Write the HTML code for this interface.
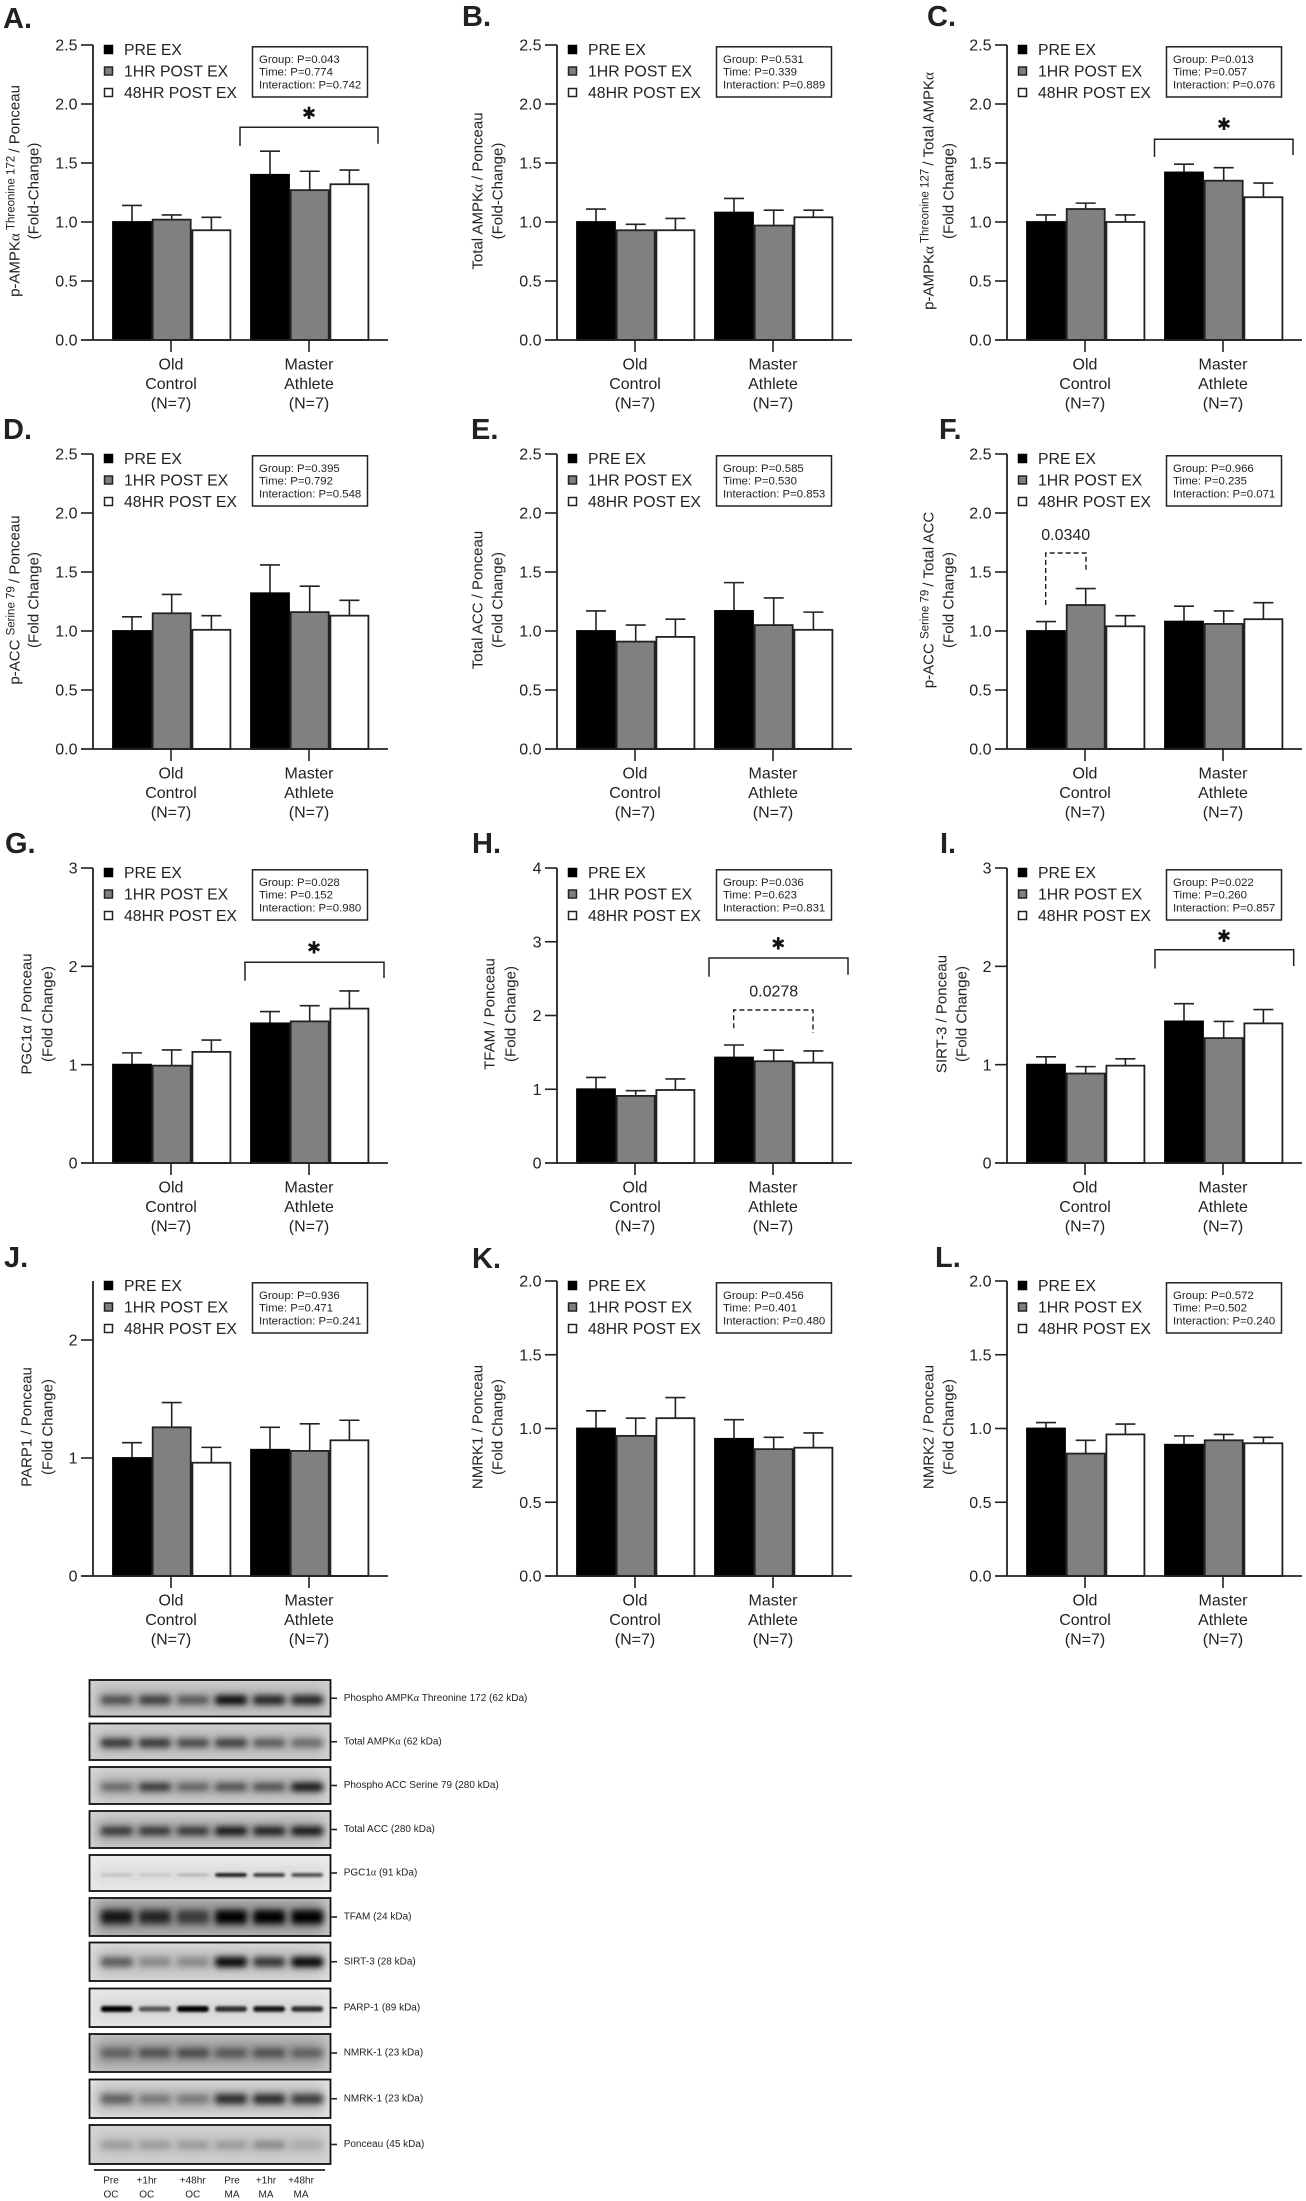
<!DOCTYPE html>
<html lang="en">
<head>
<meta charset="utf-8">
<title>AMPK pathway fold-change panels and western blots</title>
<style>
html,body{margin:0;padding:0;background:#fff;}
#figure{display:block;width:1306px;height:2201px;font-family:"Liberation Sans",sans-serif;fill:#222;}
</style>
</head>
<body>
<svg id="figure" xmlns="http://www.w3.org/2000/svg" width="1306" height="2201" viewBox="0 0 1306 2201">
<defs>
<filter id="blur-band" x="-40%" y="-150%" width="180%" height="400%"><feGaussianBlur stdDeviation="3.2"/></filter>
<filter id="blur-thin" x="-40%" y="-300%" width="180%" height="700%"><feGaussianBlur stdDeviation="1.4"/></filter>
<filter id="blur-halo" x="-40%" y="-150%" width="180%" height="400%"><feGaussianBlur stdDeviation="7"/></filter>
</defs>
</svg>
<script>
const groupLines = [['Old','Control','(N=7)'],['Master','Athlete','(N=7)']];
const seriesNames = ['PRE EX','1HR POST EX','48HR POST EX'];

const ticksA = ['0.0','0.5','1.0','1.5','2.0','2.5'];
const ticksG = ['0','1','2','3'];
const ticksH = ['0','1','2','3','4'];
const ticksJ = ['0','1','2'];
const ticksK = ['0.0','0.5','1.0','1.5','2.0'];

const meansA = [1.00,1.02,0.93,1.40,1.27,1.32];
const errTopA = [1.14,1.06,1.04,1.60,1.43,1.44];
const statsA = ['Group: P=0.043','Time: P=0.774','Interaction: P=0.742'];

const meansB = [1.00,0.93,0.93,1.08,0.97,1.04];
const errTopB = [1.11,0.98,1.03,1.20,1.10,1.10];
const statsB = ['Group: P=0.531','Time: P=0.339','Interaction: P=0.889'];

const meansC = [1.00,1.11,1.00,1.42,1.35,1.21];
const errTopC = [1.06,1.16,1.06,1.49,1.46,1.33];
const statsC = ['Group: P=0.013','Time: P=0.057','Interaction: P=0.076'];

const meansD = [1.00,1.15,1.01,1.32,1.16,1.13];
const errTopD = [1.12,1.31,1.13,1.56,1.38,1.26];
const statsD = ['Group: P=0.395','Time: P=0.792','Interaction: P=0.548'];

const meansE = [1.00,0.91,0.95,1.17,1.05,1.01];
const errTopE = [1.17,1.05,1.10,1.41,1.28,1.16];
const statsE = ['Group: P=0.585','Time: P=0.530','Interaction: P=0.853'];

const meansF = [1.00,1.22,1.04,1.08,1.06,1.10];
const errTopF = [1.08,1.36,1.13,1.21,1.17,1.24];
const statsF = ['Group: P=0.966','Time: P=0.235','Interaction: P=0.071'];

const meansG = [1.00,0.99,1.13,1.42,1.44,1.57];
const errTopG = [1.12,1.15,1.25,1.54,1.60,1.75];
const statsG = ['Group: P=0.028','Time: P=0.152','Interaction: P=0.980'];

const meansH = [1.00,0.91,0.99,1.43,1.38,1.36];
const errTopH = [1.16,0.98,1.14,1.60,1.53,1.52];
const statsH = ['Group: P=0.036','Time: P=0.623','Interaction: P=0.831'];

const meansI = [1.00,0.91,0.99,1.44,1.27,1.42];
const errTopI = [1.08,0.98,1.06,1.62,1.44,1.56];
const statsI = ['Group: P=0.022','Time: P=0.260','Interaction: P=0.857'];

const meansJ = [1.00,1.26,0.96,1.07,1.06,1.15];
const errTopJ = [1.13,1.47,1.09,1.26,1.29,1.32];
const statsJ = ['Group: P=0.936','Time: P=0.471','Interaction: P=0.241'];

const meansK = [1.00,0.95,1.07,0.93,0.86,0.87];
const errTopK = [1.12,1.07,1.21,1.06,0.94,0.97];
const statsK = ['Group: P=0.456','Time: P=0.401','Interaction: P=0.480'];

const meansL = [1.00,0.83,0.96,0.89,0.92,0.90];
const errTopL = [1.04,0.92,1.03,0.95,0.96,0.94];
const statsL = ['Group: P=0.572','Time: P=0.502','Interaction: P=0.240'];

const blotLabels = ['Phospho AMPK|α| Threonine 172 (62 kDa)','Total AMPK|α| (62 kDa)','Phospho ACC Serine 79 (280 kDa)','Total ACC (280 kDa)','PGC1|α| (91 kDa)','TFAM (24 kDa)','SIRT-3 (28 kDa)','PARP-1 (89 kDa)','NMRK-1 (23 kDa)','NMRK-1 (23 kDa)','Ponceau (45 kDa)'];
const laneTop = ['Pre','+1hr','+48hr','Pre','+1hr','+48hr'];
const laneBottom = ['OC','OC','OC','MA','MA','MA'];
const bandDensity = [
  [0.60,0.70,0.55,1.00,0.85,0.85],
  [0.75,0.75,0.65,0.70,0.55,0.45],
  [0.45,0.75,0.50,0.60,0.60,0.95],
  [0.75,0.75,0.75,0.95,0.90,0.95],
  [0.15,0.12,0.20,0.90,0.80,0.70],
  [0.85,0.75,0.60,1.00,1.00,1.00],
  [0.55,0.30,0.30,1.00,0.75,1.00],
  [1.00,0.60,1.00,0.80,0.90,0.80],
  [0.40,0.50,0.55,0.45,0.50,0.40],
  [0.50,0.35,0.35,0.80,0.80,0.70],
  [0.25,0.25,0.25,0.25,0.35,0.15]
];

const NS = 'http://www.w3.org/2000/svg';
const root = document.getElementById('figure');
const INK = '#222';

function make(tag, attrs, parent, text) {
  const n = document.createElementNS(NS, tag);
  for (const k in attrs) n.setAttribute(k, attrs[k]);
  if (text !== undefined) n.textContent = text;
  (parent || root).appendChild(n);
  return n;
}

const panelList = [
 {id:'A',ax:93,top:45,max:2.5,ticks:ticksA,means:meansA,errs:errTopA,stats:statsA,lx:3,ly:28,y1:-79,y2:-60,
  yl:[['p-AMPK'],['α','s'],[' Threonine 172 ','u'],['/ Ponceau']],yl2:'(Fold-Change)',
  br:{l:147,r:285,y:127.3,dl:146,dr:143.7,sx:216,sy:112}},
 {id:'B',ax:557,top:45,max:2.5,ticks:ticksA,means:meansB,errs:errTopB,stats:statsB,lx:462,ly:26,y1:-80,y2:-60,
  yl:[['Total AMPK'],['α','s'],[' / Ponceau']],yl2:'(Fold-Change)'},
 {id:'C',ax:1007,top:45,max:2.5,ticks:ticksA,means:meansC,errs:errTopC,stats:statsC,lx:927,ly:26,y1:-79,y2:-59,
  yl:[['p-AMPK'],['α','s'],[' Threonine 127 ','u'],['/ Total AMPK'],['α','s']],yl2:'(Fold Change)',
  br:{l:147.5,r:286,y:139.3,dl:157,dr:155,sx:217,sy:123}},
 {id:'D',ax:93,top:454,max:2.5,ticks:ticksA,means:meansD,errs:errTopD,stats:statsD,lx:3,ly:439,y1:-79,y2:-60,
  yl:[['p-ACC '],['Serine 79 ','u'],['/ Ponceau']],yl2:'(Fold Change)'},
 {id:'E',ax:557,top:454,max:2.5,ticks:ticksA,means:meansE,errs:errTopE,stats:statsE,lx:471,ly:439,y1:-80,y2:-60,
  yl:[['Total ACC / Ponceau']],yl2:'(Fold Change)'},
 {id:'F',ax:1007,top:454,max:2.5,ticks:ticksA,means:meansF,errs:errTopF,stats:statsF,lx:939,ly:439,y1:-79,y2:-59,
  yl:[['p-ACC '],['Serine 79 ','u'],['/ Total ACC']],yl2:'(Fold Change)',
  dash:{l:38.7,r:79,y:553,dl:605,dr:570,tx:58.7,ty:534.3,txt:'0.0340'}},
 {id:'G',ax:93,top:868,max:3,ticks:ticksG,means:meansG,errs:errTopG,stats:statsG,lx:5,ly:853,y1:-67,y2:-46,
  yl:[['PGC1α / Ponceau']],yl2:'(Fold Change)',
  br:{l:152,r:291,y:962.3,dl:980.7,dr:978,sx:221,sy:946.7}},
 {id:'H',ax:557,top:868,max:4,ticks:ticksH,means:meansH,errs:errTopH,stats:statsH,lx:472,ly:853,y1:-68,y2:-47,
  yl:[['TFAM / Ponceau']],yl2:'(Fold Change)',
  br:{l:152,r:291,y:958,dl:976.7,dr:974.7,sx:221.3,sy:942.3},
  dash:{l:176.7,r:256,y:1010,dl:1028.3,dr:1033,tx:216.7,ty:991,txt:'0.0278'}},
 {id:'I',ax:1007,top:868,max:3,ticks:ticksG,means:meansI,errs:errTopI,stats:statsI,lx:940,ly:853,y1:-66,y2:-46,
  yl:[['SIRT-3 / Ponceau']],yl2:'(Fold Change)',
  br:{l:148,r:286.7,y:949.8,dl:968.5,dr:966,sx:217,sy:934.8}},
 {id:'J',ax:93,top:1281,max:2.5,ticks:ticksJ,means:meansJ,errs:errTopJ,stats:statsJ,lx:4,ly:1267,y1:-67,y2:-46,
  yl:[['PARP1 / Ponceau']],yl2:'(Fold Change)'},
 {id:'K',ax:557,top:1281,max:2,ticks:ticksK,means:meansK,errs:errTopK,stats:statsK,lx:472,ly:1268,y1:-80,y2:-60,
  yl:[['NMRK1 / Ponceau']],yl2:'(Fold Change)'},
 {id:'L',ax:1007,top:1281,max:2,ticks:ticksK,means:meansL,errs:errTopL,stats:statsL,lx:935,ly:1267,y1:-79,y2:-59,
  yl:[['NMRK2 / Ponceau']],yl2:'(Fold Change)'}
];

const PLOT_H = 295;
const barFills = ['#000','#808080','#fff'];

function drawLine(parent, x1, y1, x2, y2, sw, dash) {
  const a = {x1:x1,y1:y1,x2:x2,y2:y2,stroke:INK,'stroke-width':sw||1.6};
  if (dash) a['stroke-dasharray'] = dash;
  return make('line', a, parent);
}

function drawPanel(p) {
  const g = make('g', {}, root);
  
  
  const base = p.top + PLOT_H;
  const yScale = v => base - v / p.max * PLOT_H;
  const xBar = i => p.ax + 20 + (i > 2 ? 138 : 0) + (i % 3) * 39.7;

  const letter = make('text', {x:p.lx,y:p.ly,'font-size':29,'font-weight':'bold',fill:'#222'}, g, p.id + '.');
  
  

  p.means.forEach((m, i) => {
    const s = i % 3;
    const cx = xBar(i) + 19;
    const err = make('g', {}, g);
    
    
    drawLine(err, cx, yScale(m), cx, yScale(p.errs[i]));
    drawLine(err, cx - 10, yScale(p.errs[i]), cx + 10, yScale(p.errs[i]));
    const bar = make('rect', {x:xBar(i),y:yScale(m),width:38,height:base - yScale(m),fill:barFills[s],stroke:s === 0 ? '#000' : INK,'stroke-width':1.8}, g);
    
    
  });

  const axisG = make('g', {}, g);
  
  
  drawLine(axisG, p.ax, p.top, p.ax, base, 1.8);
  drawLine(axisG, p.ax - 12, base, p.ax + 295, base, 1.8);
  p.ticks.forEach(t => {
    const v = parseFloat(t);
    if (v > 0) drawLine(axisG, p.ax - 12, yScale(v), p.ax, yScale(v));
    const tl = make('text', {x:p.ax - 15.5,y:yScale(v) + 5.7,'text-anchor':'end','font-size':16}, axisG, t);
    
    
  });
  groupLines.forEach((lines, gi) => {
    const gx = p.ax + 78 + gi * 138;
    drawLine(axisG, gx, base, gx, base + 12);
    lines.forEach((ln, li) => {
      const tl = make('text', {x:gx,y:base + 29.7 + li * 19.5,'text-anchor':'middle','font-size':16}, axisG, ln);
      
      
    });
  });

  const yc = p.top + 146;
  const t1 = make('text', {'text-anchor':'middle','font-size':15,transform:'translate(' + (p.ax + p.y1 + 5.5) + ' ' + yc + ') rotate(-90)'}, g);
  
  
  let raised = false;
  p.yl.forEach(seg => {
    const a = {};
    if (seg[1] === 's') a['font-family'] = '"Liberation Serif",serif';
    if (seg[1] === 'u') { a['font-size'] = 11.5; a.dy = -5; raised = true; }
    else if (raised) { a.dy = 5; raised = false; }
    make('tspan', a, t1, seg[0]);
  });
  const t2 = make('text', {'text-anchor':'middle','font-size':15,transform:'translate(' + (p.ax + p.y2 + 5.5) + ' ' + yc + ') rotate(-90)'}, g, p.yl2);
  
  

  seriesNames.forEach((name, s) => {
    const cy = p.top + 4.5 + s * 21.5;
    const row = make('g', {}, g);
    
    
    make('rect', {x:p.ax + 11.5,y:cy - 4,width:8,height:8,fill:barFills[s],stroke:s === 0 ? '#000' : INK,'stroke-width':1.5}, row);
    make('text', {x:p.ax + 31,y:cy + 5.7,'font-size':15.8}, row, name);
  });

  const box = make('g', {}, g);
  
  
  make('rect', {x:p.ax + 159.5,y:p.top + 1.8,width:115,height:50.2,fill:'#fff',stroke:INK,'stroke-width':1.5}, box);
  p.stats.forEach((line, i) => {
    make('text', {x:p.ax + 166,y:p.top + 18 + i * 12.7,'font-size':11.4}, box, line);
  });

  if (p.br) {
    const b = p.br;
    const pl = make('polyline', {points:[p.ax + b.l, b.dl, p.ax + b.l, b.y, p.ax + b.r, b.y, p.ax + b.r, b.dr].join(' '),fill:'none',stroke:INK,'stroke-width':1.5}, g);
    
    
    const st = make('text', {x:p.ax + b.sx,y:b.sy + 7,'text-anchor':'middle','font-size':17,'font-family':'"DejaVu Sans",sans-serif',fill:'#111'}, g, '\u2731');
    
    
  }
  if (p.dash) {
    const d = p.dash;
    const pl = make('polyline', {points:[p.ax + d.l, d.dl, p.ax + d.l, d.y, p.ax + d.r, d.y, p.ax + d.r, d.dr].join(' '),fill:'none',stroke:INK,'stroke-width':1.4,'stroke-dasharray':'5 3'}, g);
    
    
    const tx = make('text', {x:p.ax + d.tx,y:d.ty + 5.7,'text-anchor':'middle','font-size':16}, g, d.txt);
    
    
  }
}
panelList.forEach(drawPanel);

/* western blot strip */
const blotRows = [
 {t:1680,b:1716.5,c:1700,h:7,bg:'#d4d4d4',halo:.18,f:'blur-band'},
 {t:1723.5,b:1760,c:1743,h:7,bg:'#d6d6d6',halo:.16,f:'blur-band'},
 {t:1767,b:1804,c:1787,h:6,bg:'#dadada',halo:.22,f:'blur-band'},
 {t:1811,b:1848,c:1831,h:6,bg:'#d6d6d6',halo:.25,f:'blur-band'},
 {t:1855,b:1891,c:1875,h:2,bg:'#ebebeb',halo:.08,f:'blur-thin'},
 {t:1898,b:1936,c:1917,h:12,bg:'#d0d0d0',halo:.3,f:'blur-band'},
 {t:1942.5,b:1981,c:1962,h:8,bg:'#e0e0e0',halo:.16,f:'blur-band'},
 {t:1988.5,b:2027,c:2009,h:4,bg:'#e8e8e8',halo:.08,f:'blur-thin'},
 {t:2034,b:2072,c:2053,h:8,bg:'#cbcbcb',halo:.25,f:'blur-band'},
 {t:2079.5,b:2118,c:2099,h:8,bg:'#e6e6e6',halo:.22,f:'blur-band'},
 {t:2125,b:2164,c:2145,h:6,bg:'#d6d6d6',halo:.1,f:'blur-band'}
];
const laneX = i => 116.7 + i * 38.1;
const blotG = make('g', {}, root);


blotRows.forEach((r, ri) => {
  const row = make('g', {}, blotG);
  
  
  const clip = make('clipPath', {id:'blot-clip-' + ri}, row);
  make('rect', {x:89.5,y:r.t,width:241,height:r.b - r.t}, clip);
  const inner = make('g', {'clip-path':'url(#blot-clip-' + ri + ')'}, row);
  make('rect', {x:89.5,y:r.t,width:241,height:r.b - r.t,fill:r.bg}, inner);
  make('rect', {x:95,y:r.c - r.h - 6,width:230,height:r.h * 2 + 12,fill:'#000',opacity:r.halo,filter:'url(#blur-halo)'}, inner);
  bandDensity[ri].forEach((d, i) => {
    const band = make('rect', {x:laneX(i) - 16,y:r.c - r.h / 2 - d,width:32,height:r.h + 2 * d,rx:3,fill:'#000',opacity:d,filter:'url(#' + r.f + ')'}, inner);
    
    
  });
  make('rect', {x:89.5,y:r.t,width:241,height:r.b - r.t,fill:'none',stroke:'#111','stroke-width':1.8}, row);
  const mid = (r.t + r.b) / 2;
  drawLine(row, 331.5, mid, 337, mid, 1.6);
  const label = make('text', {x:343.7,y:mid + 2.5,'font-size':10,fill:'#222'}, row);
  
  
  blotLabels[ri].split('|').forEach((part, pi) => {
    const a = pi === 1 ? {'font-family':'"Liberation Serif",serif'} : {};
    make('tspan', a, label, part);
  });
});
const blotRule = drawLine(blotG, 94, 2170, 325, 2170, 1.8);


const laneCentres = [111, 146.7, 192.7, 232, 266, 301];
laneTop.forEach((t, i) => {
  const a = make('text', {x:laneCentres[i],y:2183.5,'text-anchor':'middle','font-size':10,fill:'#222'}, blotG, t);
  
  
  const b = make('text', {x:laneCentres[i],y:2197.5,'text-anchor':'middle','font-size':10,fill:'#222'}, blotG, laneBottom[i]);
  
  
});
</script>
</body>
</html>
